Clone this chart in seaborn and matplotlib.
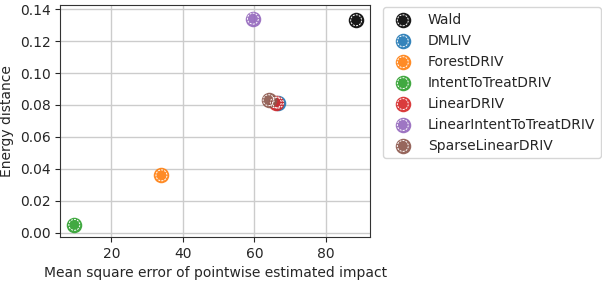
import matplotlib
matplotlib.use("Agg")
import matplotlib.pyplot as plt
import seaborn as sns
import pandas as pd

methods = ["Wald", "DMLIV", "ForestDRIV", "IntentToTreatDRIV", "LinearDRIV",
           "LinearIntentToTreatDRIV", "SparseLinearDRIV"]
mse = [88.5, 66.6, 34.0, 9.6, 66.0, 59.6, 64.0]
energy = [0.133, 0.0815, 0.036, 0.005, 0.0815, 0.134, 0.083]
colors = ["black", "#1f77b4", "#ff7f0e", "#2ca02c", "#d62728", "#9467bd", "#8c564b"]

df = pd.DataFrame({"method": methods, "mse": mse, "energy": energy})

sns.set_style("ticks")
plt.rcParams["font.family"] = ["DejaVu Sans"]
fig, ax = plt.subplots(figsize=(6.02, 2.82), dpi=100)

S_FILL = 125
S_RING = 62
DASH = (0, (2.0, 1.2))

for m, c in zip(methods, colors):
    sub = df[df["method"] == m]
    sns.scatterplot(data=sub, x="mse", y="energy", color=c, s=S_FILL, alpha=0.9,
                    linewidth=0, marker="o", ax=ax, zorder=3, legend=False)
    sns.scatterplot(data=sub, x="mse", y="energy", s=S_RING, marker="o",
                    facecolor="none", edgecolor="white", linewidth=0.7,
                    ax=ax, zorder=4, legend=False)
    ax.collections[-1].set_linestyle(DASH)
    ax.collections[-1].set_facecolor("none")

ax.grid(True, color="#cccccc", linewidth=1)
ax.set_axisbelow(True)
for sp in ax.spines.values():
    sp.set_color("#333333")
ax.set_xlabel("Mean square error of pointwise estimated impact")
ax.set_ylabel("Energy distance")
ax.set_xticks([20, 40, 60, 80])
yt = [0.00, 0.02, 0.04, 0.06, 0.08, 0.10, 0.12, 0.14]
ax.set_yticks(yt)
ax.set_yticklabels([f"{v:.2f}" for v in yt])
ax.set_ylim(-0.0025, 0.1425)

handles = []
for c in colors:
    h1 = ax.scatter([], [], s=S_FILL, color=c, alpha=0.9, linewidth=0, marker="o")
    h2 = ax.scatter([], [], s=S_RING, facecolor="none", edgecolor="white",
                    linewidth=0.7, linestyle=DASH, marker="o")
    handles.append((h1, h2))
leg = ax.legend(handles, methods, loc="upper left", bbox_to_anchor=(1.02, 1.02),
                frameon=True, scatterpoints=1)
fig.subplots_adjust(left=0.10, right=0.615, top=0.982, bottom=0.16)
fig.savefig("out.png", dpi=100)
